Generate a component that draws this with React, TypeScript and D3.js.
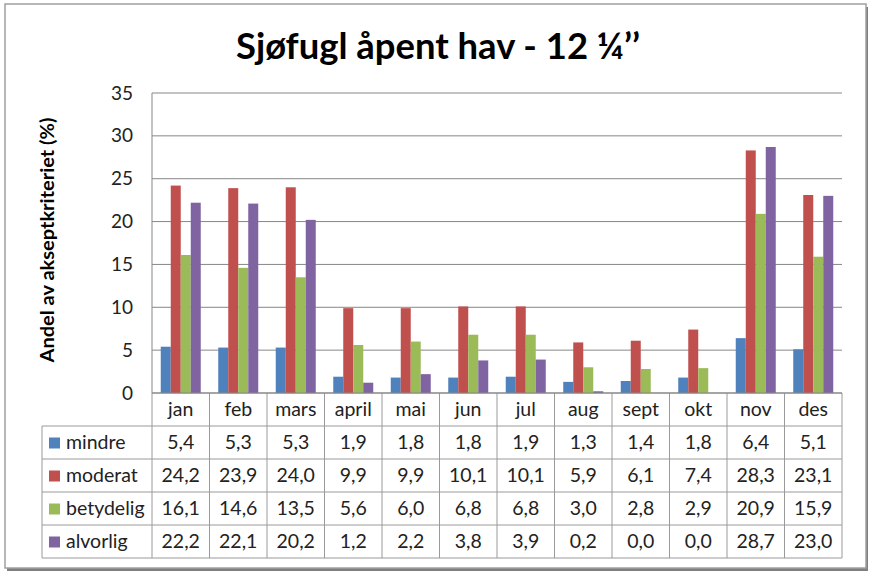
import React, { useEffect, useRef } from "react";
import * as d3 from "d3";

const months = ["jan", "feb", "mars", "april", "mai", "jun", "jul", "aug", "sept", "okt", "nov", "des"];
const seriesNames = ["mindre", "moderat", "betydelig", "alvorlig"];
const mindre = [5.4, 5.3, 5.3, 1.9, 1.8, 1.8, 1.9, 1.3, 1.4, 1.8, 6.4, 5.1];
const moderat = [24.2, 23.9, 24.0, 9.9, 9.9, 10.1, 10.1, 5.9, 6.1, 7.4, 28.3, 23.1];
const betydelig = [16.1, 14.6, 13.5, 5.6, 6.0, 6.8, 6.8, 3.0, 2.8, 2.9, 20.9, 15.9];
const alvorlig = [22.2, 22.1, 20.2, 1.2, 2.2, 3.8, 3.9, 0.2, 0.0, 0.0, 28.7, 23.0];
const yTicks = [0, 5, 10, 15, 20, 25, 30, 35];
const colors = ["#4F81BD", "#C0504D", "#9BBB59", "#8064A2"];
const title = "Sjøfugl åpent hav - 12 ¼’’";
const yLabel = "Andel av akseptkriteriet (%)";

const W = 876, H = 576;
const plotL = 152, plotR = 842, plotT = 93, plotB = 393;
const tableL = 42;
const rowH = 33;

export default function App() {
  const ref = useRef<SVGSVGElement>(null);
  useEffect(() => {
    const svg = d3.select(ref.current);
    svg.selectAll("*").remove();
    const font = "Lato, 'Open Sans', sans-serif";
    const data = [mindre, moderat, betydelig, alvorlig];

    // frame
    svg.append("rect").attr("x", 0).attr("y", 0).attr("width", W).attr("height", H).attr("fill", "#fff");
    svg.append("rect").attr("x", 7).attr("y", 7).attr("width", 861).attr("height", 564).attr("fill", "#7f7f7f");
    svg.append("rect").attr("x", 5).attr("y", 4).attr("width", 861).attr("height", 564)
      .attr("fill", "#fff").attr("stroke", "#a0a0a0").attr("stroke-width", 1.5);

    svg.append("text").attr("x", 438).attr("y", 59).attr("text-anchor", "middle")
      .attr("font-family", font).attr("font-weight", "bold").attr("font-size", 37).attr("fill", "#000")
      .attr("textLength", 404).attr("lengthAdjust", "spacingAndGlyphs")
      .text(title);

    const x = d3.scaleBand<string>().domain(months).range([plotL, plotR]);
    const y = d3.scaleLinear().domain([0, 35]).range([plotB, plotT]);
    const inner = d3.scaleBand<string>().domain(seriesNames).range([0, x.bandwidth()])
      .paddingInner(0).paddingOuter(0.875);

    // grid
    svg.append("g").selectAll("line").data(yTicks).join("line")
      .attr("x1", plotL).attr("x2", plotR).attr("y1", d => y(d)).attr("y2", d => y(d))
      .attr("stroke", "#878787").attr("stroke-width", 1);
    svg.append("line").attr("x1", plotL).attr("x2", plotL).attr("y1", plotT).attr("y2", plotB)
      .attr("stroke", "#878787");

    svg.append("g").selectAll("text").data(yTicks).join("text")
      .attr("x", 133).attr("y", d => y(d) + 6.5).attr("text-anchor", "end")
      .attr("font-family", font).attr("font-size", 19).attr("fill", "#222").text(d => String(d));

    svg.append("text").attr("transform", `translate(54,${(plotT + plotB) / 2 - 3}) rotate(-90)`)
      .attr("text-anchor", "middle").attr("font-family", font).attr("font-weight", "bold")
      .attr("font-size", 18).attr("fill", "#000")
      .attr("textLength", 245).attr("lengthAdjust", "spacingAndGlyphs").text(yLabel);

    // bars
    data.forEach((vals, si) => {
      svg.append("g").selectAll("rect").data(vals).join("rect")
        .attr("x", (d, i) => (x(months[i]) as number) + (inner(seriesNames[si]) as number))
        .attr("width", inner.bandwidth())
        .attr("y", d => y(d)).attr("height", d => y(0) - y(d))
        .attr("fill", colors[si]);
    });

    // table
    const gridC = "#9a9a9a";
    const tb = plotB + rowH + rowH * 4;
    const tg = svg.append("g");
    months.forEach((m) => {
      const xx = x(m) as number;
      tg.append("line").attr("x1", xx).attr("x2", xx).attr("y1", plotB).attr("y2", tb).attr("stroke", gridC);
    });
    tg.append("line").attr("x1", plotR).attr("x2", plotR).attr("y1", plotB).attr("y2", tb).attr("stroke", gridC);
    tg.append("line").attr("x1", tableL).attr("x2", tableL).attr("y1", plotB + rowH).attr("y2", tb).attr("stroke", gridC);
    for (let r = 1; r <= 5; r++) {
      const yy = plotB + rowH * r;
      tg.append("line").attr("x1", tableL).attr("x2", plotR).attr("y1", yy).attr("y2", yy).attr("stroke", gridC);
    }
    tg.append("line").attr("x1", plotL).attr("x2", plotR).attr("y1", plotB).attr("y2", plotB).attr("stroke", "#878787");

    tg.selectAll("text.m").data(months).join("text").attr("class", "m")
      .attr("x", d => (x(d) as number) + x.bandwidth() / 2).attr("y", plotB + rowH / 2 + 6.5)
      .attr("text-anchor", "middle").attr("font-family", font).attr("font-size", 19.5).attr("fill", "#222")
      .text(d => d);

    data.forEach((vals, si) => {
      const cy = plotB + rowH * (si + 1) + rowH / 2;
      tg.append("rect").attr("x", tableL + 7).attr("y", cy - 5).attr("width", 11).attr("height", 11)
        .attr("fill", colors[si]);
      tg.append("text").attr("x", tableL + 24).attr("y", cy + 6.5).attr("font-family", font)
        .attr("font-size", 19.5).attr("fill", "#222").text(seriesNames[si]);
      tg.selectAll(`text.v${si}`).data(vals).join("text").attr("class", `v${si}`)
        .attr("x", (d, i) => (x(months[i]) as number) + x.bandwidth() / 2).attr("y", cy + 6.5)
        .attr("text-anchor", "middle").attr("font-family", font).attr("font-size", 19.5).attr("fill", "#222")
        .text(d => d.toFixed(1).replace(".", ","));
    });
  }, []);
  return (
    <svg ref={ref} width={W} height={H} style={{ position: "absolute", left: 0, top: 0, display: "block" }} />
  );
}
